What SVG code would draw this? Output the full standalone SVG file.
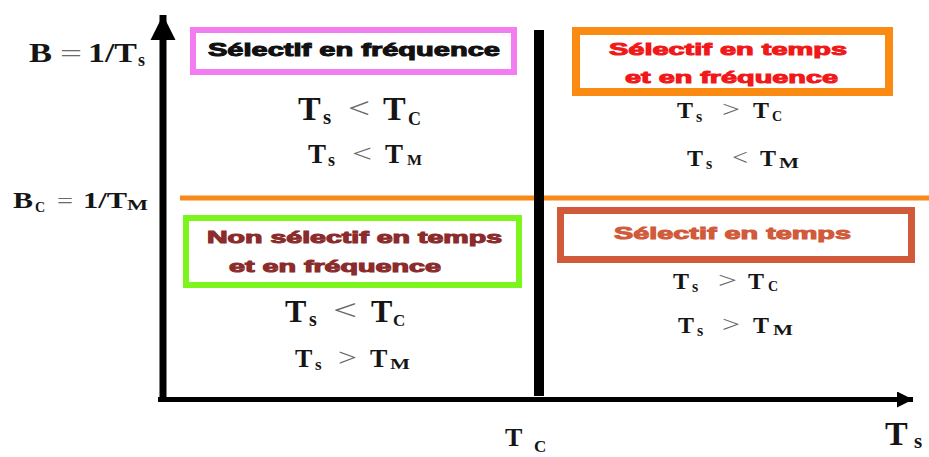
<svg xmlns="http://www.w3.org/2000/svg" width="929" height="457" viewBox="0 0 929 457">
<style>
.box{fill:none}
.lbl{font-family:"Liberation Sans",Arial,sans-serif;font-weight:bold;stroke-width:1;}
.m{font-family:"Liberation Serif","Times New Roman",serif;font-weight:bold;fill:#151515;}
.op{font-family:"Liberation Serif","Times New Roman",serif;fill:#6a6a6a;}
</style>
<defs>
<marker id="ahUp" viewBox="0 0 10 10" refX="10" refY="5" markerWidth="3.6" markerHeight="3.6" markerUnits="strokeWidth" orient="auto">
<path d="M0,0 L10,5 L0,10 Z" fill="#000"/>
</marker>
<marker id="ahRight" viewBox="0 0 10 10" refX="10" refY="5" markerWidth="7.8" markerHeight="3.2" markerUnits="strokeWidth" orient="auto">
<path d="M0,0 L10,5 L0,10 Z" fill="#000"/>
</marker>
</defs>
<rect width="929" height="457" fill="#fff"/>

<g id="connectors">
<line x1="180" y1="198" x2="929" y2="198" stroke="#f98a1a" stroke-width="5"/>
<line x1="163" y1="402" x2="163" y2="15" stroke="#000" stroke-width="7" marker-end="url(#ahUp)"/>
<line x1="158" y1="399.5" x2="913" y2="399.5" stroke="#000" stroke-width="5" marker-end="url(#ahRight)"/>
<line x1="539" y1="30" x2="539" y2="396" stroke="#000" stroke-width="10"/>
</g>

<g id="axis-labels">
<text class="m" font-size="28" x="29" y="62" textLength="23" lengthAdjust="spacingAndGlyphs">B</text>
<text class="op" font-size="26" fill="#222" x="60" y="62" textLength="22" lengthAdjust="spacingAndGlyphs">=</text>
<text class="m" font-size="28" x="88" y="62" textLength="49" lengthAdjust="spacingAndGlyphs">1/T</text>
<text class="m" font-size="18" x="138" y="66">s</text>

<text class="m" font-size="24" x="13" y="208" textLength="20" lengthAdjust="spacingAndGlyphs">B</text>
<text class="m" font-size="14" x="35" y="212">C</text>
<text class="op" font-size="22" fill="#222" x="57" y="208" textLength="16" lengthAdjust="spacingAndGlyphs">=</text>
<text class="m" font-size="24" x="83" y="208" textLength="44" lengthAdjust="spacingAndGlyphs">1/T</text>
<text class="m" font-size="14" x="127" y="210" textLength="21" lengthAdjust="spacingAndGlyphs">M</text>

<text class="m" font-size="26" x="505" y="446">T</text>
<text class="m" font-size="17" x="534" y="452">C</text>
<text class="m" font-size="34" x="885" y="445">T</text>
<text class="m" font-size="21" x="914" y="448">s</text>
</g>

<g id="node-freq">
<rect class="box" x="193" y="30" width="321" height="42" stroke="#f27cf0" stroke-width="6"/>
<text class="lbl" fill="#111" stroke="#111" font-size="18" x="208" y="56" textLength="292" lengthAdjust="spacingAndGlyphs">Sélectif en fréquence</text>
<text class="m" font-size="34" x="298" y="120">T</text>
<text class="m" font-size="21" x="323" y="124">s</text>
<text class="op" font-size="30" x="348" y="118" textLength="22" lengthAdjust="spacingAndGlyphs">&lt;</text>
<text class="m" font-size="34" x="383" y="120">T</text>
<text class="m" font-size="18" x="408" y="125">C</text>
<text class="m" font-size="27" x="308" y="163">T</text>
<text class="m" font-size="18" x="328" y="166">s</text>
<text class="op" font-size="26" x="352" y="162" textLength="20" lengthAdjust="spacingAndGlyphs">&lt;</text>
<text class="m" font-size="27" x="385" y="163">T</text>
<text class="m" font-size="14" x="407" y="165" textLength="15" lengthAdjust="spacingAndGlyphs">M</text>
</g>

<g id="node-time-freq">
<rect class="box" x="576" y="31" width="313" height="61" stroke="#fb8a12" stroke-width="8"/>
<text class="lbl" fill="#f01818" stroke="#f01818" font-size="17" x="609" y="55" textLength="238" lengthAdjust="spacingAndGlyphs">Sélectif en temps</text>
<text class="lbl" fill="#f01818" stroke="#f01818" font-size="17" x="625" y="83" textLength="213" lengthAdjust="spacingAndGlyphs">et en fréquence</text>
<text class="m" font-size="24" x="677" y="118">T</text>
<text class="m" font-size="16" x="696" y="122">s</text>
<text class="op" font-size="24" x="722" y="117" textLength="18" lengthAdjust="spacingAndGlyphs">&gt;</text>
<text class="m" font-size="24" x="753" y="118">T</text>
<text class="m" font-size="14" x="772" y="121">C</text>
<text class="m" font-size="24" x="687" y="166">T</text>
<text class="m" font-size="16" x="706" y="169">s</text>
<text class="op" font-size="24" x="732" y="165" textLength="16" lengthAdjust="spacingAndGlyphs">&lt;</text>
<text class="m" font-size="24" x="760" y="166">T</text>
<text class="m" font-size="14" x="779" y="168" textLength="20" lengthAdjust="spacingAndGlyphs">M</text>
</g>

<g id="node-non-selective">
<rect class="box" x="186" y="218" width="333" height="67" stroke="#7cf51c" stroke-width="6"/>
<text class="lbl" fill="#8a2c2c" stroke="#8a2c2c" font-size="16" x="207" y="243" textLength="295" lengthAdjust="spacingAndGlyphs">Non sélectif en temps</text>
<text class="lbl" fill="#8a2c2c" stroke="#8a2c2c" font-size="16" x="229" y="272" textLength="212" lengthAdjust="spacingAndGlyphs">et en fréquence</text>
<text class="m" font-size="32" x="285" y="322">T</text>
<text class="m" font-size="20" x="309" y="326">s</text>
<text class="op" font-size="30" x="333" y="320" textLength="24" lengthAdjust="spacingAndGlyphs">&lt;</text>
<text class="m" font-size="32" x="371" y="322">T</text>
<text class="m" font-size="17" x="393" y="326">C</text>
<text class="m" font-size="26" x="295" y="367">T</text>
<text class="m" font-size="17" x="315" y="370">s</text>
<text class="op" font-size="26" x="338" y="366" textLength="19" lengthAdjust="spacingAndGlyphs">&gt;</text>
<text class="m" font-size="26" x="370" y="367">T</text>
<text class="m" font-size="14" x="390" y="369" textLength="20" lengthAdjust="spacingAndGlyphs">M</text>
</g>

<g id="node-time">
<rect class="box" x="560.5" y="210.5" width="351" height="49" stroke="#d05a3a" stroke-width="7"/>
<text class="lbl" fill="#d05a3a" stroke="#d05a3a" font-size="17" x="614" y="239" textLength="237" lengthAdjust="spacingAndGlyphs">Sélectif en temps</text>
<text class="m" font-size="24" x="673" y="289">T</text>
<text class="m" font-size="16" x="692" y="292">s</text>
<text class="op" font-size="24" x="718" y="288" textLength="19" lengthAdjust="spacingAndGlyphs">&gt;</text>
<text class="m" font-size="24" x="748" y="289">T</text>
<text class="m" font-size="14" x="768" y="291">C</text>
<text class="m" font-size="24" x="678" y="333">T</text>
<text class="m" font-size="16" x="697" y="336">s</text>
<text class="op" font-size="24" x="722" y="332" textLength="18" lengthAdjust="spacingAndGlyphs">&gt;</text>
<text class="m" font-size="24" x="753" y="333">T</text>
<text class="m" font-size="14" x="773" y="335" textLength="20" lengthAdjust="spacingAndGlyphs">M</text>
</g>
</svg>
